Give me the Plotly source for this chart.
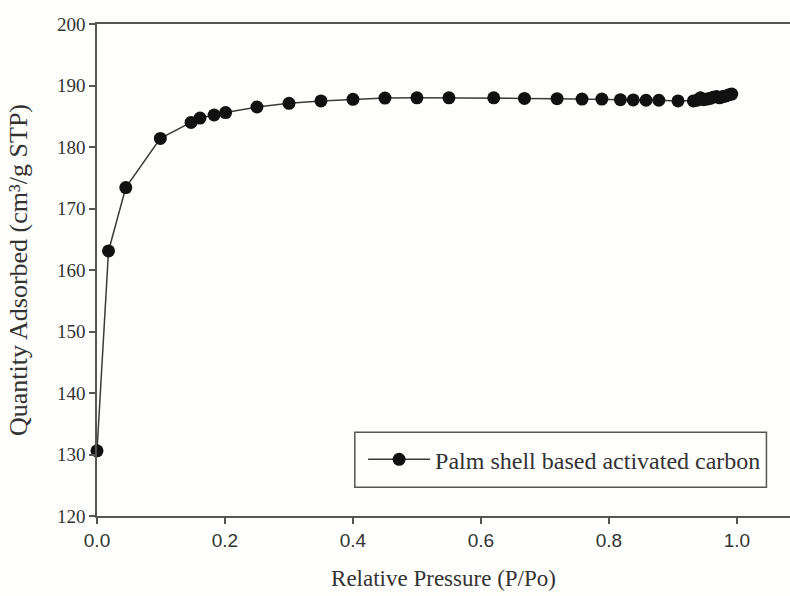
import plotly.graph_objects as go

series_name = "Palm shell based activated carbon"
rel_pressure = [0.0, 0.018, 0.045, 0.099, 0.147, 0.161, 0.183, 0.201, 0.25, 0.30,
                0.35, 0.40, 0.45, 0.50, 0.55, 0.62, 0.668, 0.719, 0.758, 0.789,
                0.818, 0.838, 0.858, 0.878, 0.908, 0.932, 0.938, 0.943, 0.948,
                0.953, 0.958, 0.963, 0.968, 0.973, 0.978, 0.983, 0.988, 0.992]
quantity = [130.6, 163.1, 173.4, 181.4, 184.0, 184.7, 185.2, 185.6, 186.5, 187.1,
            187.5, 187.75, 187.95, 188.0, 188.0, 188.0, 187.9, 187.85, 187.8, 187.8,
            187.7, 187.65, 187.6, 187.6, 187.5, 187.5, 187.6, 188.0, 187.7,
            187.8, 187.9, 188.1, 188.2, 188.0, 188.2, 188.3, 188.5, 188.6]
x_ticks = [0.0, 0.2, 0.4, 0.6, 0.8, 1.0]
x_tick_labels = ["0.0", "0.2", "0.4", "0.6", "0.8", "1.0"]
y_ticks = [120, 130, 140, 150, 160, 170, 180, 190, 200]

serif = "Liberation Serif, Times New Roman, serif"
sans = "Liberation Sans, Arial, sans-serif"
ink = "#333333"
bg = "#fefefc"

fig = go.Figure()
fig.add_trace(go.Scatter(
    x=rel_pressure, y=quantity, mode="lines+markers", name=series_name,
    line=dict(color="#3a3a3a", width=1.5),
    marker=dict(color="#111111", size=13),
    cliponaxis=False,
))

# legend frame
fig.add_shape(type="rect", xref="paper", yref="paper",
              x0=0.372, x1=0.966, y0=0.0584, y1=0.170,
              line=dict(color="#555555", width=1.5), fillcolor=bg, layer="above")

fig.update_layout(
    width=790, height=596,
    margin=dict(l=97, r=0, t=24, b=80),
    paper_bgcolor=bg, plot_bgcolor=bg,
    showlegend=True,
    legend=dict(
        x=0.384, y=0.1143, xanchor="left", yanchor="middle",
        bgcolor="rgba(0,0,0,0)", borderwidth=0,
        font=dict(family=serif, size=24, color=ink),
        itemwidth=62,
    ),
    xaxis=dict(
        range=[0, 1.083], tickvals=x_ticks, ticktext=x_tick_labels,
        showgrid=False, zeroline=False,
        showline=True, linecolor="#555555", linewidth=1.5, mirror=True,
        ticks="outside", ticklen=6, tickcolor="#555555", tickwidth=1.5,
        tickfont=dict(family=sans, size=19, color=ink),
        title=dict(text="Relative Pressure (P/Po)", font=dict(family=serif, size=23, color=ink), standoff=20),
    ),
    yaxis=dict(
        range=[120, 200], tickvals=y_ticks,
        showgrid=False, zeroline=False,
        showline=True, linecolor="#555555", linewidth=1.5,
        ticks="outside", ticklen=6, tickcolor="#555555", tickwidth=1.5,
        tickfont=dict(family=serif, size=19, color=ink),
        title=dict(text="Quantity Adsorbed (cm³/g STP)", font=dict(family=serif, size=26, color=ink), standoff=22),
    ),
)

fig.write_html("out.html")
